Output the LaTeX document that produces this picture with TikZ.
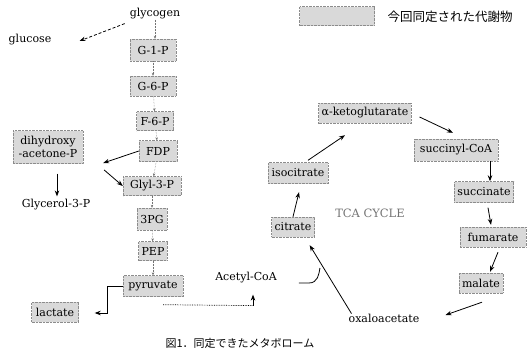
\documentclass[tikz,border=0pt]{standalone}
\usepackage{fontspec}
\setmainfont{DejaVu Serif}
\newfontfamily\cjk{Noto Sans CJK JP}
\usetikzlibrary{arrows.meta,calc}
\begin{document}
\begin{tikzpicture}[x=1pt,y=-1pt,
  met/.style={draw=black!45, densely dotted, fill=black!15, inner xsep=3pt, inner ysep=0pt,
    minimum height=20pt, font=\fontsize{11}{12}\selectfont, text=black},
  lbl/.style={inner sep=0pt, font=\fontsize{11}{12}\selectfont},
  arr/.style={-{Stealth[length=6pt,width=4.5pt]}, line width=0.8pt},
  tick/.style={-{Stealth[length=3pt,width=2.5pt]}, black!55, line width=0.5pt, densely dotted}]
\useasboundingbox (0,0) rectangle (530,362);
% legend
\node[met, minimum width=75pt, minimum height=19pt] (legbox) at (337,16) {};
\node[inner sep=0pt, font=\cjk\fontsize{12.5}{13}\selectfont] (legtxt) at (450,17) {今回同定された代謝物};
% glycolysis
\node[lbl] (glycogen) at (155,14) {glycogen};
\node[lbl] (glucose) at (30,40) {glucose};
\node[met, minimum width=46pt, minimum height=22pt] (g1p) at (153,50) {G-1-P};
\node[met, minimum width=46pt] (g6p) at (153,86) {G-6-P};
\node[met, minimum width=37pt, minimum height=19pt] (f6p) at (155,121) {F-6-P};
\node[met, minimum width=38pt, minimum height=21pt] (fdp) at (158,151) {FDP};
\node[met, minimum width=70pt, minimum height=33pt, align=center,
  font=\fontsize{11}{12.5}\selectfont] (dhap) at (48,147) {dihydroxy\\-acetone-P};
\node[met, minimum width=58pt, minimum height=19pt] (glyl) at (152,186) {Glyl-3-P};
\node[lbl] (glycerol) at (56,205) {Glycerol-3-P};
\node[met, minimum width=30pt, minimum height=22pt] (pg) at (152,219) {3PG};
\node[met, minimum width=27pt, minimum height=19pt] (pep) at (153,251) {PEP};
\node[met, minimum width=60pt, minimum height=21pt] (pyr) at (153,286) {pyruvate};
\node[met, minimum width=47pt] (lac) at (55,312) {lactate};
\node[lbl] (acoa) at (246,278) {Acetyl-CoA};
% TCA
\node[lbl] (oxa) at (384,318) {oxaloacetate};
\node[met, minimum width=43pt] (cit) at (293,227) {citrate};
\node[met, minimum width=60pt, minimum height=21pt] (iso) at (298,173) {isocitrate};
\node[met, minimum width=85pt] (akg) at (365,113) {α-ketoglutarate};
\node[met, minimum width=84pt, minimum height=22pt] (scoa) at (456,150) {succinyl-CoA};
\node[met, minimum width=52pt, minimum height=21pt] (succ) at (484,192) {succinate};
\node[met, minimum width=66pt] (fum) at (493,237) {fumarate};
\node[met, minimum width=39pt] (mal) at (481,283) {malate};
\node[lbl, text=black!55, font=\fontsize{11.5}{12}\selectfont] (tca) at (370,213) {TCA CYCLE};
% caption
\node[inner sep=0pt, font=\cjk\fontsize{11}{12}\selectfont] (cap) at (240,343) {図1．同定できたメタボローム};
% connectors glycolysis
\draw[arr, densely dashed] ($(glycogen.south west)+(-5,4)$) -- ($(glucose.east)+(28,1)$);
\draw[tick] (glycogen.south) -- (glycogen.south |- g1p.north);
\draw[tick] (g1p) -- (g6p);
\draw[tick] (g6p) -- (f6p);
\draw[tick] (f6p) -- (fdp);
\draw[tick] (fdp) -- (glyl);
\draw[tick] (glyl) -- (pg);
\draw[tick] (pg) -- (pep);
\draw[tick] (pep) -- (pyr);
\draw[arr] (fdp.west) -- ($(dhap.east)+(20,16)$);
\draw[arr] ($(dhap.east)+(21,23)$) -- (glyl.west);
\draw[arr] ($(dhap.south)+(9,10)$) -- ($(glycerol.north)+(1,-3)$);
\draw[arr] (pyr.west) -- ++(-15,0) |- ($(lac.east)+(16,1)$);
\coordinate (corner) at ($(acoa.south)+(7,22)$);
\draw[densely dotted, line width=0.7pt] ($(pyr.south east)+(-20,8)$) -- (corner);
\draw[arr] (corner) -- ($(acoa.south)+(7,11)$);
\draw[line width=0.8pt] ($(acoa.east)+(22,5)$) -- ++(10,0) .. controls +(9,0) and +(-1,6) .. ++(11,-15);
% connectors TCA
\draw[arr] ($(oxa.north west)+(3,0)$) -- ($(cit.south east)+(-5,8)$);
\draw[arr] (cit.north) -- ($(iso.south)+(1,8.5)$);
\draw[arr] ($(iso.north)+(10,-2)$) -- ($(akg.south)+(-20,12)$);
\draw[arr] ($(akg.east)+(8,4)$) -- ($(scoa.north)+(-3,-6)$);
\draw[arr] ($(scoa.south)+(34,0)$) -- ($(succ.north)+(6,0)$);
\draw[arr] ($(succ.south)+(4,5)$) -- ($(fum.north)+(-2,-2)$);
\draw[arr] ($(fum.south)+(5,5)$) -- ($(mal.north)+(9,-1)$);
\draw[arr] ($(mal.south)+(1,9)$) -- ($(oxa.east)+(26,-3)$);
\end{tikzpicture}
\end{document}
